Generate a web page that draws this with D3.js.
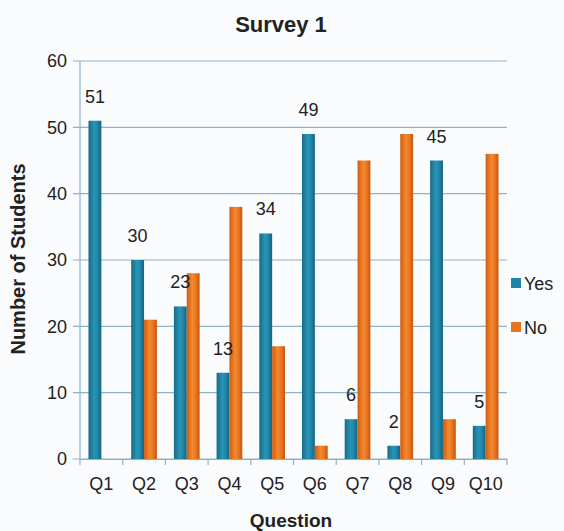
<!DOCTYPE html>
<html>
<head>
<meta charset="utf-8">
<script src="https://cdn.jsdelivr.net/npm/d3@7"></script>
<style>
  body { margin: 0; background: #fafbfd; }
  text { font-family: 'Liberation Sans', Arial, sans-serif; fill: #222; }
</style>
</head>
<body>
<div id="chart"></div>
<script>
const questions = ['Q1', 'Q2', 'Q3', 'Q4', 'Q5', 'Q6', 'Q7', 'Q8', 'Q9', 'Q10'];
const yesValues = [51, 30, 23, 13, 34, 49, 6, 2, 45, 5];
const noValues = [0, 21, 28, 38, 17, 2, 45, 49, 6, 46];
const seriesNames = ['Yes', 'No'];
const yTicks = [0, 10, 20, 30, 40, 50, 60];

const width = 564;
const height = 531;
const margin = { top: 61, right: 57, bottom: 72, left: 80 };
const innerW = width - margin.left - margin.right;
const innerH = height - margin.top - margin.bottom;

const svg = d3
  .select('#chart')
  .append('svg')
  .attr('width', width)
  .attr('height', height);

svg.append('rect').attr('width', width).attr('height', height).attr('fill', '#fafbfd');

const defs = svg.append('defs');
const grad = (id, stops) => {
  const g = defs.append('linearGradient').attr('id', id).attr('x1', 0).attr('x2', 1).attr('y1', 0).attr('y2', 0);
  stops.forEach(([o, c]) => g.append('stop').attr('offset', o).attr('stop-color', c));
};
grad('gYes', [[0, '#176b88'], [0.45, '#2a94b6'], [0.7, '#2087a8'], [1, '#14627d']]);
grad('gNo', [[0, '#cf5c12'], [0.45, '#f5892e'], [0.7, '#ea7620'], [1, '#c4560f']]);

const g = svg.append('g').attr('transform', `translate(${margin.left},${margin.top})`);

const x = d3.scaleBand().domain(questions).range([0, innerW]).paddingInner(0).paddingOuter(0);
const xs = d3.scaleBand().domain(seriesNames).range([8.5, x.bandwidth() - 8.5]);
const y = d3.scaleLinear().domain([0, 60]).range([innerH, 0]);
const color = { Yes: 'url(#gYes)', No: 'url(#gNo)' };
const swatch = { Yes: '#1f84a6', No: '#e8741e' };

// gridlines
g.append('g')
  .selectAll('line')
  .data(yTicks)
  .enter()
  .append('line')
  .attr('x1', -7)
  .attr('x2', innerW)
  .attr('y1', (d) => y(d))
  .attr('y2', (d) => y(d))
  .attr('stroke', '#8db3c7')
  .attr('stroke-width', 1.2);

// y axis labels
g.append('g')
  .selectAll('text')
  .data(yTicks)
  .enter()
  .append('text')
  .attr('x', -13)
  .attr('y', (d) => y(d))
  .attr('dy', '0.35em')
  .attr('text-anchor', 'end')
  .style('font-size', '18px')
  .text((d) => d);

g.append('line')
  .attr('x1', 0).attr('x2', 0)
  .attr('y1', 0).attr('y2', innerH)
  .attr('stroke', '#8db3c7').attr('stroke-width', 1.2);

// x axis
const xAxis = g.append('g')
  .attr('transform', `translate(0,${innerH})`)
  .call(d3.axisBottom(x).tickSize(0).tickPadding(18));
xAxis.select('.domain').attr('stroke', '#8db3c7').attr('stroke-width', 1.2);
xAxis.selectAll('text').style('font-size', '18px').style('fill', '#222');
xAxis.selectAll('.bound')
  .data(d3.range(questions.length + 1))
  .enter()
  .append('line')
  .attr('x1', (i) => i * x.bandwidth())
  .attr('x2', (i) => i * x.bandwidth())
  .attr('y1', 0)
  .attr('y2', 6)
  .attr('stroke', '#8db3c7')
  .attr('stroke-width', 1.2);

// bars
const rows = questions.map((q, i) => ({ q, Yes: yesValues[i], No: noValues[i] }));
const groups = g.selectAll('.grp')
  .data(rows)
  .enter()
  .append('g')
  .attr('transform', (d) => `translate(${x(d.q)},0)`);

groups.selectAll('rect')
  .data((d) => seriesNames.map((s) => ({ s, v: d[s] })))
  .enter()
  .append('rect')
  .attr('x', (d) => xs(d.s))
  .attr('y', (d) => y(d.v))
  .attr('width', xs.bandwidth())
  .attr('height', (d) => innerH - y(d.v))
  .attr('fill', (d) => color[d.s]);

// value labels for Yes
groups.append('text')
  .attr('x', xs('Yes') + xs.bandwidth() / 2)
  .attr('y', (d) => y(d.Yes) - 18)
  .attr('text-anchor', 'middle')
  .style('font-size', '18px')
  .text((d) => d.Yes);

// title
svg.append('text')
  .attr('x', 281)
  .attr('y', 32)
  .attr('text-anchor', 'middle')
  .style('font-size', '22px')
  .style('font-weight', 'bold')
  .text('Survey 1');

svg.append('text')
  .attr('x', 291)
  .attr('y', 527)
  .attr('text-anchor', 'middle')
  .style('font-size', '19px')
  .style('font-weight', 'bold')
  .text('Question');

svg.append('text')
  .attr('transform', 'translate(25,259) rotate(-90)')
  .attr('text-anchor', 'middle')
  .style('font-size', '20px')
  .style('font-weight', 'bold')
  .text('Number of Students');

// legend
const legend = svg.append('g').attr('transform', 'translate(511,284)');
seriesNames.forEach((s, i) => {
  const row = legend.append('g').attr('transform', `translate(0,${i * 44})`);
  row.append('rect').attr('x', 0).attr('y', -6).attr('width', 10).attr('height', 10).attr('fill', swatch[s]);
  row.append('text').attr('x', 13).attr('y', 0).attr('dy', '0.35em').style('font-size', '18px').text(s);
});
</script>
</body>
</html>
